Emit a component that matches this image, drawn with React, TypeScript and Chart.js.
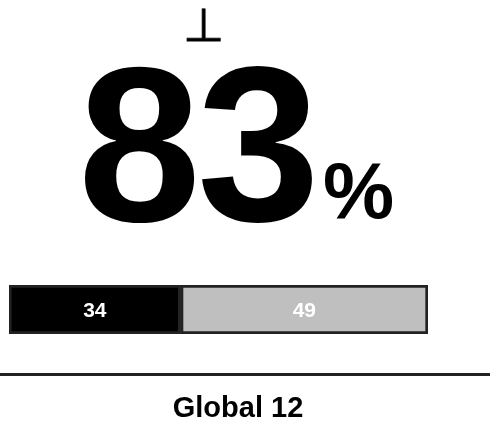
import React, { useEffect, useRef } from "react";
import { Chart, registerables } from "chart.js";

Chart.register(...registerables);

const categories = ["Global 12"];
const seriesNames = ["Yes", "No"];
const yesValues = [34];
const noValues = [49];
const symbolText = "⊥";
const titleText = "Global 12";

const FONT = "'Liberation Sans', Arial, Helvetica, sans-serif";

function drawInk(
  ctx: CanvasRenderingContext2D,
  text: string,
  left: number,
  top: number,
  right: number,
  bottom: number,
  strokeW: number
) {
  const m = ctx.measureText(text);
  const inkW = m.actualBoundingBoxLeft + m.actualBoundingBoxRight;
  const inkH = m.actualBoundingBoxAscent + m.actualBoundingBoxDescent;
  const sx = (right - left) / inkW;
  const sy = (bottom - top) / inkH;
  ctx.save();
  ctx.translate(left, top);
  ctx.scale(sx, sy);
  ctx.fillText(text, m.actualBoundingBoxLeft, m.actualBoundingBoxAscent);
  if (strokeW > 0) {
    ctx.strokeStyle = ctx.fillStyle as string;
    ctx.lineWidth = strokeW;
    ctx.strokeText(text, m.actualBoundingBoxLeft, m.actualBoundingBoxAscent);
  }
  ctx.restore();
}

const decorPlugin = {
  id: "decor",
  afterDraw(chart: any) {
    const ctx = chart.ctx as CanvasRenderingContext2D;
    const total = yesValues[0] + noValues[0];
    ctx.save();
    ctx.fillStyle = "#000";
    ctx.textBaseline = "alphabetic";
    ctx.textAlign = "left";

    // symbol
    ctx.font = `46px 'DejaVu Sans', sans-serif`;
    drawInk(ctx, symbolText, 186, 7.5, 221, 40.5, 0.8);

    // big number
    ctx.font = `bold 221px ${FONT}`;
    (ctx as any).letterSpacing = "-4px";
    const num = String(total);
    const mn = ctx.measureText(num);
    ctx.fillText(num, 85 + mn.actualBoundingBoxLeft, 221);
    (ctx as any).letterSpacing = "0px";
    ctx.font = `bold 80px ${FONT}`;
    const mp = ctx.measureText("%");
    ctx.fillText("%", 325 + mp.actualBoundingBoxLeft, 218);

    // values in bars
    ctx.textAlign = "center";
    ctx.textBaseline = "alphabetic";
    ctx.font = `bold 21px ${FONT}`;
    ctx.fillStyle = "#fff";
    chart.data.datasets.forEach((ds: any, i: number) => {
      const meta = chart.getDatasetMeta(i);
      meta.data.forEach((el: any, j: number) => {
        const left = Math.min(el.x, el.base);
        const right = Math.max(el.x, el.base);
        ctx.fillText(String(ds.data[j]), (left + right) / 2, el.y + 7.5);
      });
    });

    // separator line
    ctx.strokeStyle = "#222";
    ctx.lineWidth = 3;
    ctx.beginPath();
    ctx.moveTo(0, 374.5);
    ctx.lineTo(chart.width, 374.5);
    ctx.stroke();

    // title
    ctx.fillStyle = "#000";
    ctx.textAlign = "center";
    ctx.font = `bold 29px ${FONT}`;
    ctx.fillText(titleText, 238, 417);
    ctx.restore();
  },
};

export default function App() {
  const ref = useRef<HTMLCanvasElement>(null);
  useEffect(() => {
    if (!ref.current) return;
    const common = {
      borderColor: "#222222",
      borderWidth: 3,
      borderSkipped: false,
      barPercentage: 1,
      categoryPercentage: 1,
    };
    const chart = new Chart(ref.current, {
      type: "bar",
      data: {
        labels: categories,
        datasets: [
          { label: seriesNames[0], data: yesValues, backgroundColor: "#000000", ...common },
          { label: seriesNames[1], data: noValues, backgroundColor: "#bfbfbf", ...common },
        ],
      },
      options: {
        indexAxis: "y",
        animation: false,
        responsive: false,
        layout: { padding: { left: 9, right: 62, top: 285, bottom: 91 } },
        plugins: { legend: { display: false }, tooltip: { enabled: false } },
        scales: {
          x: { stacked: true, display: false, min: 0, max: yesValues[0] + noValues[0] },
          y: { stacked: true, display: false },
        },
      },
      plugins: [decorPlugin],
    } as any);
    return () => chart.destroy();
  }, []);
  return (
    <div style={{ position: "fixed", left: 0, top: 0, width: 490, height: 425, background: "#fff" }}>
      <canvas ref={ref} width={490} height={425} style={{ width: 490, height: 425, display: "block" }} />
    </div>
  );
}
